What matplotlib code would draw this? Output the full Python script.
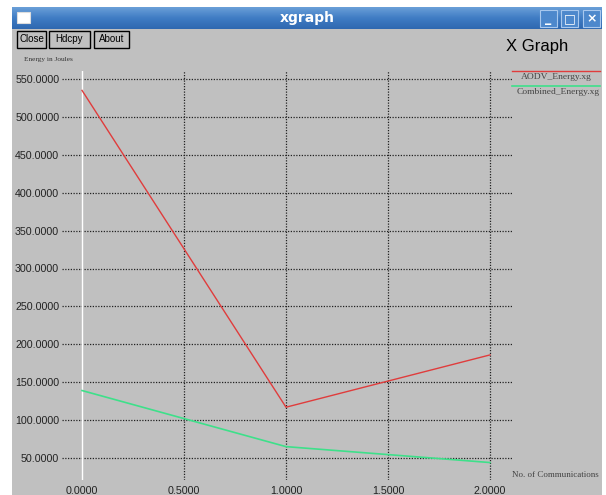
import numpy as np
import matplotlib
matplotlib.use("Agg")
import matplotlib.pyplot as plt
from matplotlib.patches import Rectangle

# Data
comms = [0.0, 1.0, 2.0]
aodv_energy = [535.0, 117.0, 186.0]
combined_energy = [139.0, 65.0, 44.0]
x_ticks = [0.0, 0.5, 1.0, 1.5, 2.0]
y_ticks = [50, 100, 150, 200, 250, 300, 350, 400, 450, 500, 550]

W, H = 606, 495
GRAY = "#c0c0c0"


def fx(x):
    return x / W


def fy(y):
    return 1 - y / H


def box(x0, y0, x1, y1, z=2, **kw):
    """Rectangle in screen pixels (top-left origin)."""
    r = Rectangle((fx(x0), fy(y1)), (x1 - x0) / W, (y1 - y0) / H,
                  transform=fig.transFigure, zorder=z, **kw)
    fig.patches.append(r)
    return r


fig = plt.figure(figsize=(W / 100, H / 100), dpi=100, facecolor="white")

# Window body
box(12, 29, 602, 495, z=-10, facecolor=GRAY, edgecolor="none")

# Title bar with gradient
tb = fig.add_axes([fx(12), fy(29), 590 / W, 22 / H])
grad = np.linspace(0, 1, 50).reshape(-1, 1)
tb.imshow(grad, aspect="auto", cmap=matplotlib.colors.LinearSegmentedColormap.from_list(
    "tb", ["#6a9fd8", "#3f7cc4", "#2f68b0"]), extent=[0, 1, 0, 1])
tb.set_axis_off()
fig.text(fx(307), fy(18), "xgraph", color="white", fontsize=10, fontweight="bold",
         ha="center", va="center", family="DejaVu Sans")
box(17, 12, 30, 23, facecolor="white", edgecolor="#dddddd", lw=0.8)
for xa, glyph in [(540, "_"), (561, "\u25a1"), (583, "\u00d7")]:
    box(xa, 10, xa + 17, 27, facecolor="#4d88cc", edgecolor="#a8c8ee", lw=0.8)
    fig.text(fx(xa + 8.5), fy(18.5), glyph, color="white", fontsize=9, fontweight="bold",
             ha="center", va="center")

# Buttons
for x0, x1, label in [(17, 46, "Close"), (49, 90, "Hdcpy"), (94, 129, "About")]:
    box(x0, 31, x1, 48, facecolor=GRAY, edgecolor="black", lw=1.0)
    fig.text(fx((x0 + x1) / 2), fy(39.5), label, fontsize=7, ha="center", va="center",
             family="Liberation Sans")

fig.text(fx(537), fy(46), "X Graph", fontsize=12, ha="center", va="center",
         family="Liberation Sans")
fig.text(fx(24), fy(59), "Energy in Joules", fontsize=5.2, ha="left", va="center",
         family="Liberation Serif", color="#333333")
fig.text(fx(555), fy(475), "No. of Communications", fontsize=6.5, ha="center", va="center",
         family="Liberation Serif", color="#444444")

# Plot area
x_px0, x_per = 82, 204.0
y_px550, y_per = 79, (458 - 79) / 500.0
ax = fig.add_axes([fx(62), fy(480), (512 - 62) / W, (480 - 71) / H])
ax.set_zorder(5)
ax.patch.set_alpha(0)
ax.set_xlim((62 - x_px0) / x_per, (512 - x_px0) / x_per)
ax.set_ylim(550 - (480 - y_px550) / y_per, 550 + (y_px550 - 71) / y_per)
for s in ax.spines.values():
    s.set_visible(False)

for yt in y_ticks:
    ax.axhline(yt, color="#222222", lw=0.9, ls=(0, (1, 1.2)), zorder=1)
for xt in x_ticks:
    if xt == 0:
        ax.axvline(xt, color="white", lw=1.0, zorder=1)
    else:
        ax.axvline(xt, color="#222222", lw=0.9, ls=(0, (1, 1.2)), zorder=1)

ax.plot(comms, aodv_energy, color="#e03c3c", lw=1.0, zorder=3)
ax.plot(comms, combined_energy, color="#3ee08a", lw=1.2, zorder=3)

ax.set_xticks(x_ticks)
ax.set_xticklabels(["%.4f" % v for v in x_ticks])
ax.set_yticks(y_ticks)
ax.set_yticklabels(["%.4f" % v for v in y_ticks])
ax.tick_params(length=0, labelsize=7.7, pad=2, labelcolor="#222222")
ax.tick_params(axis="x", pad=4)
for lbl in ax.get_xticklabels() + ax.get_yticklabels():
    lbl.set_family("Liberation Sans")

# Legend (xgraph style)
fig.lines.append(plt.Line2D([fx(512), fx(600)], [fy(71), fy(71)], transform=fig.transFigure,
                            color="#e03c3c", lw=1.0))
fig.text(fx(556), fy(77), "AODV_Energy.xg", fontsize=6.8, ha="center", va="center",
         family="Liberation Serif", color="#444444")
fig.lines.append(plt.Line2D([fx(512), fx(600)], [fy(86), fy(86)], transform=fig.transFigure,
                            color="#3ee08a", lw=1.2))
fig.text(fx(558), fy(92), "Combined_Energy.xg", fontsize=6.8, ha="center", va="center",
         family="Liberation Serif", color="#444444")

fig.savefig("out.png", dpi=100, facecolor="white")
